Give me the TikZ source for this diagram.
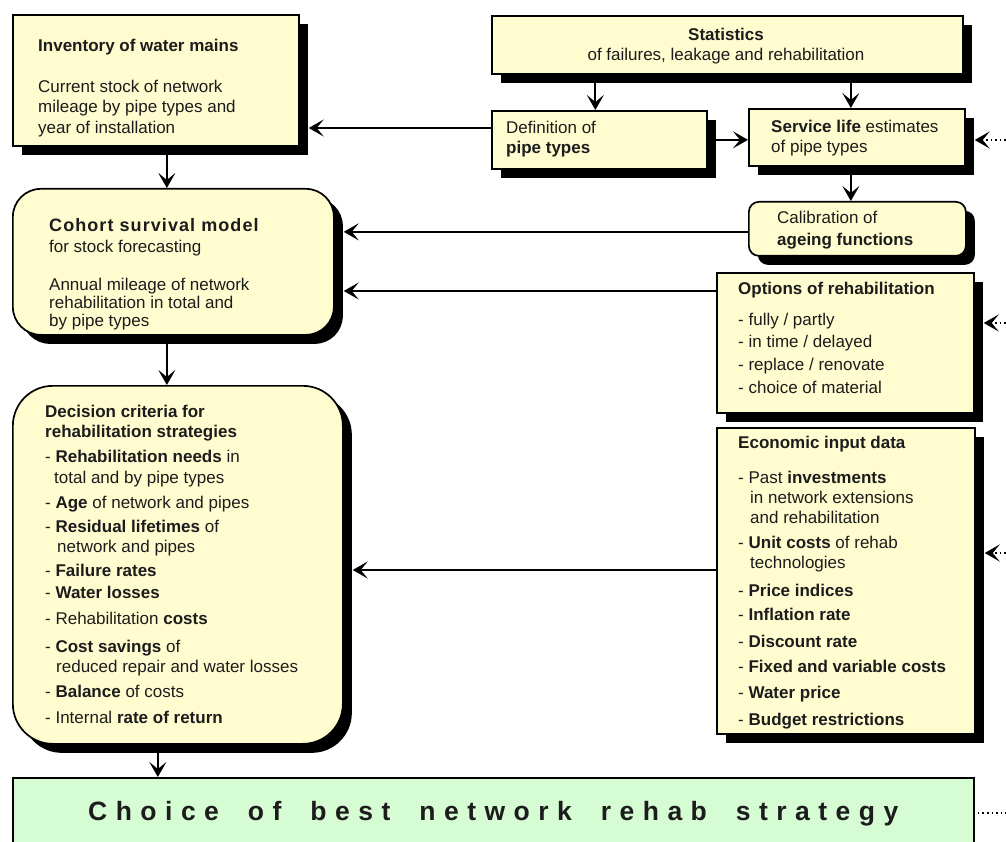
\documentclass[tikz,border=0pt]{standalone}
\usepackage{fontspec}
\setmainfont{Liberation Sans}
\newfontfamily\cohfont[LetterSpace=6]{Liberation Sans Bold}
\newfontfamily\choicefont[LetterSpace=32]{Liberation Sans Bold}
\usetikzlibrary{arrows.meta,shadows,calc}
\definecolor{boxy}{RGB}{255,252,207}
\definecolor{boxg}{RGB}{214,252,212}
\definecolor{ink}{RGB}{28,28,28}
\begin{document}
\begin{tikzpicture}[x=1pt,y=-1pt,
  box/.style={draw=black, line width=1.7pt, fill=boxy, inner sep=0pt, anchor=north west,
     drop shadow={shadow xshift=9pt, shadow yshift=-9pt, fill=black, opacity=1}},
  txt/.style={align=left, inner sep=0pt, anchor=north west, text=ink, font=\fontsize{17}{20}\selectfont},
  arr/.style={-{Stealth[length=15pt,width=17pt,inset=7pt]}, line width=1.9pt},
  dotarr/.style={arr, dash pattern=on 1.6pt off 3pt},
  dotline/.style={line width=1.6pt, dash pattern=on 1.6pt off 3pt}]
\useasboundingbox (0,0) rectangle (1006,842);

% boxes
\node[box, minimum width=286pt, minimum height=131pt] (inv) at (12,14) {};
\node[box, minimum width=471pt, minimum height=58pt] (stat) at (491,15) {};
\node[box, minimum width=215pt, minimum height=58pt] (def) at (491,110) {};
\node[box, minimum width=216pt, minimum height=57pt] (serv) at (748,108) {};
\node[box, rounded corners=10pt, minimum width=217pt, minimum height=54pt] (cal) at (748,201) {};
\node[box, rounded corners=28pt, minimum width=321pt, minimum height=146pt] (coh) at (12,188) {};
\node[box, minimum width=257pt, minimum height=140pt] (opt) at (716,272) {};
\node[box, minimum width=258pt, minimum height=306pt] (eco) at (716,427) {};
\node[box, rounded corners=40pt, minimum width=330pt, minimum height=358pt] (dec) at (12,385) {};
\node[draw=black, line width=1.7pt, fill=boxg, inner sep=0pt, anchor=north west,
      minimum width=961pt, minimum height=75pt] (cho) at (12,777) {};

% texts
\node[txt] (invt) at (38,39) {\textbf{Inventory of water mains}\\[21pt]
  Current stock of network\\ mileage by pipe types and\\[1pt] year of installation};
\node[txt, align=center, anchor=north] (statt) at (726,28) {\textbf{Statistics}\\
  of failures, leakage and rehabilitation};
\node[txt] (deft) at (506,121) {Definition of\\ \textbf{pipe types}};
\node[txt] (servt) at (771,120) {\textbf{Service life} estimates\\ of pipe types};
\node[txt] (calt) at (777,211) {Calibration of\\[2pt] \textbf{ageing functions}};
\node[txt, font=\fontsize{17}{18}\selectfont] (coht) at (49,218)
  {{\cohfont\fontsize{18}{18}\selectfont Cohort survival model}\\[3pt]
   for stock forecasting\\[20pt] Annual mileage of network\\
   rehabilitation in total and\\ by pipe types};
\node[txt] (optt) at (738,282) {\textbf{Options of rehabilitation}\\[11pt]
  - fully / partly\\[2pt] - in time / delayed\\[3pt] - replace / renovate\\[3pt]
  - choice of material};
\node[txt] (ecot) at (738,436) {\textbf{Economic input data}\\[15pt]
  - Past \textbf{investments}\\ \hspace*{12pt}in network extensions\\
  \hspace*{12pt}and rehabilitation\\[5pt] - \textbf{Unit costs} of rehab\\
  \hspace*{12pt}technologies\\[8pt] - \textbf{Price indices}\\[4pt]
  - \textbf{Inflation rate}\\[7pt] - \textbf{Discount rate}\\[5pt]
  - \textbf{Fixed and variable costs}\\[6pt] - \textbf{Water price}\\[7pt]
  - \textbf{Budget restrictions}};
\node[txt] (dect) at (45,405) {\textbf{Decision criteria for}\\
  \textbf{rehabilitation strategies}\\[5pt]
  - \textbf{Rehabilitation needs} in\\[1pt] \hspace*{9pt}total and by pipe types\\[5pt]
  - \textbf{Age} of network and pipes\\[4pt]
  - \textbf{Residual lifetimes} of\\ \hspace*{12pt}network and pipes\\[4pt]
  - \textbf{Failure rates}\\[2pt] - \textbf{Water losses}\\[6pt]
  - Rehabilitation \textbf{costs}\\[8pt] - \textbf{Cost savings} of\\
  \hspace*{11pt}reduced repair and water losses\\[5pt]
  - \textbf{Balance} of costs\\[6pt] - Internal \textbf{rate of return}};
\node[inner sep=0pt, anchor=base west, text=ink, font={\choicefont\fontsize{26.5}{30}\selectfont}]
  (chot) at (88,820) {Choice\hspace{29pt}of\hspace{29pt}best\hspace{29pt}network\hspace{29pt}rehab\hspace{29pt}strategy};

% helper coordinates
\coordinate (invS) at ([xshift=9pt]inv.east);
\coordinate (cohS) at ([xshift=9pt]coh.east);
\coordinate (decS) at ([xshift=9pt]dec.east);
\coordinate (servS) at ([xshift=9pt]serv.east);
\coordinate (optS) at ([xshift=9pt]opt.east);
\coordinate (ecoS) at ([xshift=9pt]eco.east);
\coordinate (sd) at ([xshift=-4pt]def.north);
\coordinate (ss) at ([xshift=-6pt]serv.north);
\coordinate (sc) at ([xshift=-6pt]serv.south);
\coordinate (d1) at ([yshift=-18pt]def.north west);
\coordinate (c1) at ([yshift=-3pt]cal.west);
\coordinate (o1) at ([yshift=-19pt]opt.north west);
\coordinate (e1) at ([yshift=-143pt]eco.north west);
\coordinate (ic) at ([xshift=11pt]inv.south);
\coordinate (cd) at (ic |- coh.south);
\coordinate (dc) at ([xshift=-20pt]dec.south);
\coordinate (r1) at (1006,140);
\coordinate (r2) at (1006,323);
\coordinate (r3) at (1006,553);
\coordinate (r4) at (1006,813);
\coordinate (chR) at ([xshift=3pt]cho.east);

% connectors
\draw[arr] (sd |- stat.south) -- (sd);
\draw[arr] (ss |- stat.south) -- (ss);
\draw[arr] (d1) -- (d1 -| invS);
\draw[arr] (def.east) -- (def.east -| serv.west);
\draw[arr] (sc) -- (sc |- cal.north);
\draw[arr] (c1) -- (c1 -| cohS);
\draw[arr] (o1) -- (o1 -| cohS);
\draw[arr] (ic) -- (ic |- coh.north);
\draw[arr] (cd) -- (cd |- dec.north);
\draw[arr] (e1) -- (e1 -| decS);
\draw[arr] (dc) -- (dc |- cho.north);
\draw[dotarr] (r1) -- (r1 -| servS);
\draw[dotarr] (r2) -- (r2 -| optS);
\draw[dotarr] (r3) -- (r3 -| ecoS);
\draw[dotline] (chR |- r4) -- (r4);
\end{tikzpicture}
\end{document}
